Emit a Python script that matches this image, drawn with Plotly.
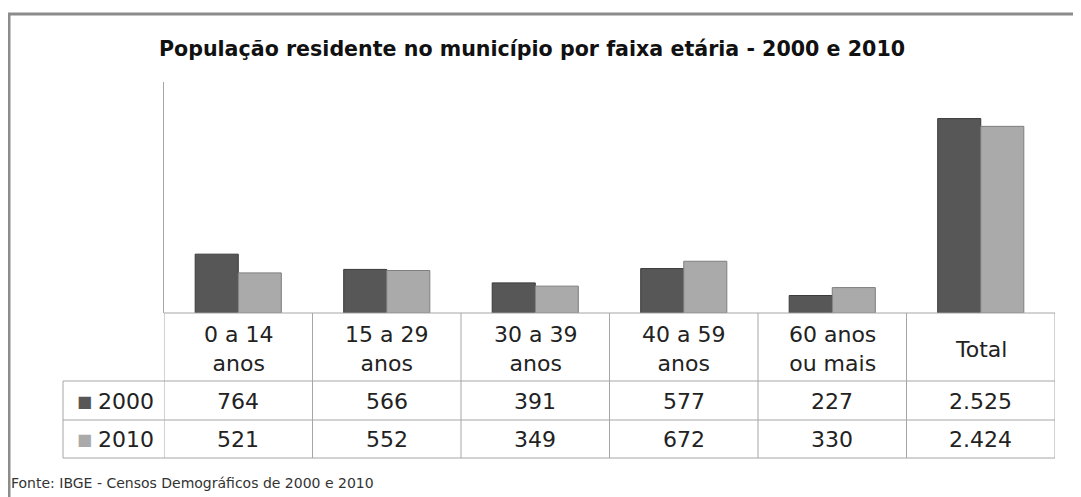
import plotly.graph_objects as go

# data
categories = ["0 a 14 anos", "15 a 29 anos", "30 a 39 anos", "40 a 59 anos", "60 anos ou mais", "Total"]
header_labels = ["0 a 14<br>anos", "15 a 29<br>anos", "30 a 39<br>anos", "40 a 59<br>anos", "60 anos<br>ou mais", "Total"]
pop_2000 = [764, 566, 391, 577, 227, 2525]
pop_2010 = [521, 552, 349, 672, 330, 2424]
series_names = ["2000", "2010"]

DARK = "#575757"
LIGHT = "#aaaaaa"
GRID = "#a6a6a6"
TXT = "#222222"
FONT = "DejaVu Sans"

# page has an 8px body margin, so work in screen pixels and shift
OFF = 8
W, H = 1081 - OFF, 497 - OFF
PL, PR, PT, PB = 164, 1055, 82, 313  # plot area in screen pixels


def fx(px):
    return (px - PL) / (PR - PL)


def fy(py):
    return (PB - py) / (PB - PT)


def fmt(v):
    return f"{v:,}".replace(",", ".")


fig = go.Figure()
fig.add_trace(go.Bar(x=categories, y=pop_2000, name=series_names[0],
                     marker=dict(color=DARK, line=dict(color="#3a3a3a", width=1))))
fig.add_trace(go.Bar(x=categories, y=pop_2010, name=series_names[1],
                     marker=dict(color=LIGHT, line=dict(color="#7f7f7f", width=1))))

shapes = []
# outer frame (left + top only visible)
shapes.append(dict(type="line", xref="paper", yref="paper", x0=fx(OFF + 1), x1=fx(OFF + 1), y0=fy(H + OFF + 5),
                   y1=fy(14), line=dict(color="#8c8c8c", width=3)))
shapes.append(dict(type="line", xref="paper", yref="paper", x0=fx(OFF), x1=fx(W + OFF + 5), y0=fy(14), y1=fy(14),
                   line=dict(color="#8c8c8c", width=3)))

# data table grid
row_y = [313, 381, 420, 458]
shapes.append(dict(type="line", xref="paper", yref="paper", x0=0, x1=1, y0=fy(row_y[0]), y1=fy(row_y[0]),
                   line=dict(color=GRID, width=1)))
for ry in row_y[1:]:
    shapes.append(dict(type="line", xref="paper", yref="paper", x0=fx(63), x1=1, y0=fy(ry), y1=fy(ry),
                       line=dict(color=GRID, width=1)))
shapes.append(dict(type="line", xref="paper", yref="paper", x0=fx(63), x1=fx(63), y0=fy(381), y1=fy(458),
                   line=dict(color=GRID, width=1)))
for i in range(len(categories) + 1):
    shapes.append(dict(type="line", xref="x", yref="paper", x0=i - 0.5, x1=i - 0.5, y0=fy(313), y1=fy(458),
                       line=dict(color=GRID, width=1)))

annotations = []
for i, lab in enumerate(header_labels):
    annotations.append(dict(x=i, y=fy(349), xref="x", yref="paper", text=lab, showarrow=False,
                            xanchor="center", yanchor="middle",
                            font=dict(family=FONT, size=22, color=TXT), align="center"))
for vals, ry in ((pop_2000, 401), (pop_2010, 439)):
    for i, v in enumerate(vals):
        annotations.append(dict(x=i, y=fy(ry), xref="x", yref="paper", text=fmt(v), showarrow=False,
                                xanchor="center", yanchor="middle",
                                font=dict(family=FONT, size=22, color=TXT)))
for name, col, ry in ((series_names[0], DARK, 401), (series_names[1], LIGHT, 439)):
    annotations.append(dict(x=fx(75), y=fy(ry), xref="paper", yref="paper", text="■", showarrow=False,
                            xanchor="left", yanchor="middle", font=dict(family=FONT, size=16, color=col)))
    annotations.append(dict(x=fx(96), y=fy(ry), xref="paper", yref="paper", text=name, showarrow=False,
                            xanchor="left", yanchor="middle", font=dict(family=FONT, size=22, color=TXT)))
annotations.append(dict(x=fx(9), y=fy(483), xref="paper", yref="paper",
                        text="Fonte: IBGE - Censos Demográficos de 2000 e 2010", showarrow=False,
                        xanchor="left", yanchor="middle", font=dict(family=FONT, size=14, color="#333333")))

fig.update_layout(
    width=W, height=H,
    margin=dict(l=PL - OFF, r=W - (PR - OFF), t=PT - OFF, b=H - (PB - OFF)),
    paper_bgcolor="white", plot_bgcolor="white",
    title=dict(text="<b>População residente no município por faixa etária - 2000 e 2010</b>",
               x=(532 - OFF) / W, xanchor="center", y=1 - (49 - OFF) / H, yanchor="middle",
               font=dict(family=FONT, size=20.6, color="#111111")),
    barmode="group", bargap=0.42, bargroupgap=0,
    showlegend=False,
    xaxis=dict(range=[-0.5, 5.5], showticklabels=False, showgrid=False, zeroline=False, showline=False),
    yaxis=dict(range=[0, 3000], showticklabels=False, showgrid=False, zeroline=False,
               showline=True, linecolor=GRID, linewidth=1),
    shapes=shapes,
    annotations=annotations,
)

fig.write_html("out.html")
